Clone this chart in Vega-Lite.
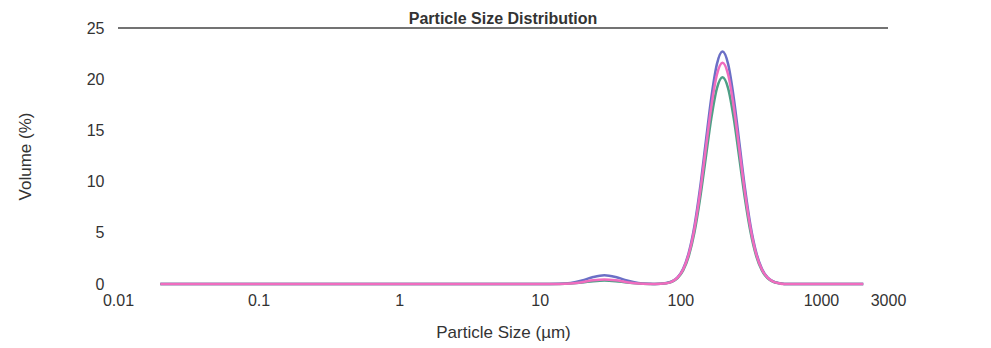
{
  "$schema": "https://vega.github.io/schema/vega-lite/v6.json",
  "width": 770,
  "height": 256,
  "autosize": "none",
  "padding": {"left": 118, "top": 28, "right": 103, "bottom": 64},
  "background": "white",
  "config": {
    "view": {"stroke": null},
    "font": "Liberation Sans",
    "axis": {"labelFont": "Liberation Sans", "titleFont": "Liberation Sans", "labelColor": "#333", "titleColor": "#333"}
  },
  "title": {"text": "Particle Size Distribution", "fontSize": 16, "fontWeight": "bold", "color": "#333", "anchor": "middle", "offset": 3, "dy": 10},
  "datasets": {
    "psd": [
      {"size": 0.02, "volume": 0, "sample": "Record 1"},
      {"size": 1, "volume": 0, "sample": "Record 1"},
      {"size": 10, "volume": 0, "sample": "Record 1"},
      {"size": 13.8, "volume": 0.02, "sample": "Record 1"},
      {"size": 16.6, "volume": 0.11, "sample": "Record 1"},
      {"size": 20.0, "volume": 0.35, "sample": "Record 1"},
      {"size": 24.0, "volume": 0.68, "sample": "Record 1"},
      {"size": 28.8, "volume": 0.85, "sample": "Record 1"},
      {"size": 34.7, "volume": 0.68, "sample": "Record 1"},
      {"size": 41.7, "volume": 0.35, "sample": "Record 1"},
      {"size": 50.1, "volume": 0.11, "sample": "Record 1"},
      {"size": 60.3, "volume": 0.02, "sample": "Record 1"},
      {"size": 66, "volume": 0, "sample": "Record 1"},
      {"size": 79.4, "volume": 0.09, "sample": "Record 1"},
      {"size": 87.1, "volume": 0.25, "sample": "Record 1"},
      {"size": 95.5, "volume": 0.65, "sample": "Record 1"},
      {"size": 104.7, "volume": 1.49, "sample": "Record 1"},
      {"size": 114.8, "volume": 3.07, "sample": "Record 1"},
      {"size": 125.9, "volume": 5.65, "sample": "Record 1"},
      {"size": 138.0, "volume": 9.33, "sample": "Record 1"},
      {"size": 151.4, "volume": 13.78, "sample": "Record 1"},
      {"size": 166.0, "volume": 18.18, "sample": "Record 1"},
      {"size": 182.0, "volume": 21.47, "sample": "Record 1"},
      {"size": 199.5, "volume": 22.7, "sample": "Record 1"},
      {"size": 218.8, "volume": 21.47, "sample": "Record 1"},
      {"size": 239.9, "volume": 18.18, "sample": "Record 1"},
      {"size": 263.0, "volume": 13.78, "sample": "Record 1"},
      {"size": 288.4, "volume": 9.33, "sample": "Record 1"},
      {"size": 316.2, "volume": 5.65, "sample": "Record 1"},
      {"size": 346.7, "volume": 3.07, "sample": "Record 1"},
      {"size": 380.2, "volume": 1.49, "sample": "Record 1"},
      {"size": 416.9, "volume": 0.65, "sample": "Record 1"},
      {"size": 457.1, "volume": 0.25, "sample": "Record 1"},
      {"size": 501.2, "volume": 0.09, "sample": "Record 1"},
      {"size": 550, "volume": 0, "sample": "Record 1"},
      {"size": 2000, "volume": 0, "sample": "Record 1"},

      {"size": 0.02, "volume": 0, "sample": "Record 2"},
      {"size": 1, "volume": 0, "sample": "Record 2"},
      {"size": 10, "volume": 0, "sample": "Record 2"},
      {"size": 13.8, "volume": 0.01, "sample": "Record 2"},
      {"size": 16.6, "volume": 0.05, "sample": "Record 2"},
      {"size": 20.0, "volume": 0.14, "sample": "Record 2"},
      {"size": 24.0, "volume": 0.28, "sample": "Record 2"},
      {"size": 28.8, "volume": 0.35, "sample": "Record 2"},
      {"size": 34.7, "volume": 0.28, "sample": "Record 2"},
      {"size": 41.7, "volume": 0.14, "sample": "Record 2"},
      {"size": 50.1, "volume": 0.05, "sample": "Record 2"},
      {"size": 60.3, "volume": 0.01, "sample": "Record 2"},
      {"size": 66, "volume": 0, "sample": "Record 2"},
      {"size": 79.4, "volume": 0.08, "sample": "Record 2"},
      {"size": 87.1, "volume": 0.22, "sample": "Record 2"},
      {"size": 95.5, "volume": 0.58, "sample": "Record 2"},
      {"size": 104.7, "volume": 1.33, "sample": "Record 2"},
      {"size": 114.8, "volume": 2.73, "sample": "Record 2"},
      {"size": 125.9, "volume": 5.03, "sample": "Record 2"},
      {"size": 138.0, "volume": 8.30, "sample": "Record 2"},
      {"size": 151.4, "volume": 12.26, "sample": "Record 2"},
      {"size": 166.0, "volume": 16.18, "sample": "Record 2"},
      {"size": 182.0, "volume": 19.11, "sample": "Record 2"},
      {"size": 199.5, "volume": 20.2, "sample": "Record 2"},
      {"size": 218.8, "volume": 19.11, "sample": "Record 2"},
      {"size": 239.9, "volume": 16.18, "sample": "Record 2"},
      {"size": 263.0, "volume": 12.26, "sample": "Record 2"},
      {"size": 288.4, "volume": 8.30, "sample": "Record 2"},
      {"size": 316.2, "volume": 5.03, "sample": "Record 2"},
      {"size": 346.7, "volume": 2.73, "sample": "Record 2"},
      {"size": 380.2, "volume": 1.33, "sample": "Record 2"},
      {"size": 416.9, "volume": 0.58, "sample": "Record 2"},
      {"size": 457.1, "volume": 0.22, "sample": "Record 2"},
      {"size": 501.2, "volume": 0.08, "sample": "Record 2"},
      {"size": 550, "volume": 0, "sample": "Record 2"},
      {"size": 2000, "volume": 0, "sample": "Record 2"},

      {"size": 0.02, "volume": 0, "sample": "Record 3"},
      {"size": 1, "volume": 0, "sample": "Record 3"},
      {"size": 10, "volume": 0, "sample": "Record 3"},
      {"size": 13.8, "volume": 0.01, "sample": "Record 3"},
      {"size": 16.6, "volume": 0.06, "sample": "Record 3"},
      {"size": 20.0, "volume": 0.18, "sample": "Record 3"},
      {"size": 24.0, "volume": 0.36, "sample": "Record 3"},
      {"size": 28.8, "volume": 0.45, "sample": "Record 3"},
      {"size": 34.7, "volume": 0.36, "sample": "Record 3"},
      {"size": 41.7, "volume": 0.18, "sample": "Record 3"},
      {"size": 50.1, "volume": 0.06, "sample": "Record 3"},
      {"size": 60.3, "volume": 0.01, "sample": "Record 3"},
      {"size": 66, "volume": 0, "sample": "Record 3"},
      {"size": 79.4, "volume": 0.08, "sample": "Record 3"},
      {"size": 87.1, "volume": 0.24, "sample": "Record 3"},
      {"size": 95.5, "volume": 0.62, "sample": "Record 3"},
      {"size": 104.7, "volume": 1.42, "sample": "Record 3"},
      {"size": 114.8, "volume": 2.92, "sample": "Record 3"},
      {"size": 125.9, "volume": 5.38, "sample": "Record 3"},
      {"size": 138.0, "volume": 8.88, "sample": "Record 3"},
      {"size": 151.4, "volume": 13.11, "sample": "Record 3"},
      {"size": 166.0, "volume": 17.30, "sample": "Record 3"},
      {"size": 182.0, "volume": 20.43, "sample": "Record 3"},
      {"size": 199.5, "volume": 21.6, "sample": "Record 3"},
      {"size": 218.8, "volume": 20.43, "sample": "Record 3"},
      {"size": 239.9, "volume": 17.30, "sample": "Record 3"},
      {"size": 263.0, "volume": 13.11, "sample": "Record 3"},
      {"size": 288.4, "volume": 8.88, "sample": "Record 3"},
      {"size": 316.2, "volume": 5.38, "sample": "Record 3"},
      {"size": 346.7, "volume": 2.92, "sample": "Record 3"},
      {"size": 380.2, "volume": 1.42, "sample": "Record 3"},
      {"size": 416.9, "volume": 0.62, "sample": "Record 3"},
      {"size": 457.1, "volume": 0.24, "sample": "Record 3"},
      {"size": 501.2, "volume": 0.08, "sample": "Record 3"},
      {"size": 550, "volume": 0, "sample": "Record 3"},
      {"size": 2000, "volume": 0, "sample": "Record 3"}
    ]
  },
  "layer": [
    {
      "data": {"values": [{"top": 25}]},
      "mark": {"type": "rule", "color": "#444", "strokeWidth": 1.5},
      "encoding": {"y": {"field": "top", "type": "quantitative", "scale": {"domain": [0, 25], "nice": false}}}
    },
    {
      "data": {"name": "psd"},
      "mark": {"type": "line", "interpolate": "monotone", "strokeWidth": 2.5},
      "encoding": {
        "x": {
          "field": "size", "type": "quantitative",
          "scale": {"type": "log", "domain": [0.01, 3000], "nice": false},
          "axis": {
            "values": [0.01, 0.1, 1, 10, 100, 1000, 3000],
            "format": "~g",
            "title": "Particle Size (µm)",
            "titleFontSize": 17, "titleFontWeight": "normal",
            "labelFontSize": 16, "labelPadding": 8,
            "titleY": 48, "titleBaseline": "middle",
            "domain": false, "ticks": false, "grid": false,
            "labelFlush": false, "labelOverlap": false
          }
        },
        "y": {
          "field": "volume", "type": "quantitative",
          "scale": {"domain": [0, 25], "nice": false},
          "axis": {
            "values": [0, 5, 10, 15, 20, 25],
            "title": "Volume (%)",
            "titleFontSize": 17, "titleFontWeight": "normal",
            "labelFontSize": 16, "labelPadding": 14,
            "titleX": -93, "titleY": 128, "titleAngle": -90, "titleAlign": "center", "titleBaseline": "middle",
            "domain": false, "ticks": false, "grid": false,
            "labelFlush": false
          }
        },
        "color": {
          "field": "sample", "type": "nominal",
          "scale": {"domain": ["Record 1", "Record 2", "Record 3"], "range": ["#6b6fc6", "#4e9f86", "#f06cbf"]},
          "legend": null
        }
      }
    }
  ]
}
